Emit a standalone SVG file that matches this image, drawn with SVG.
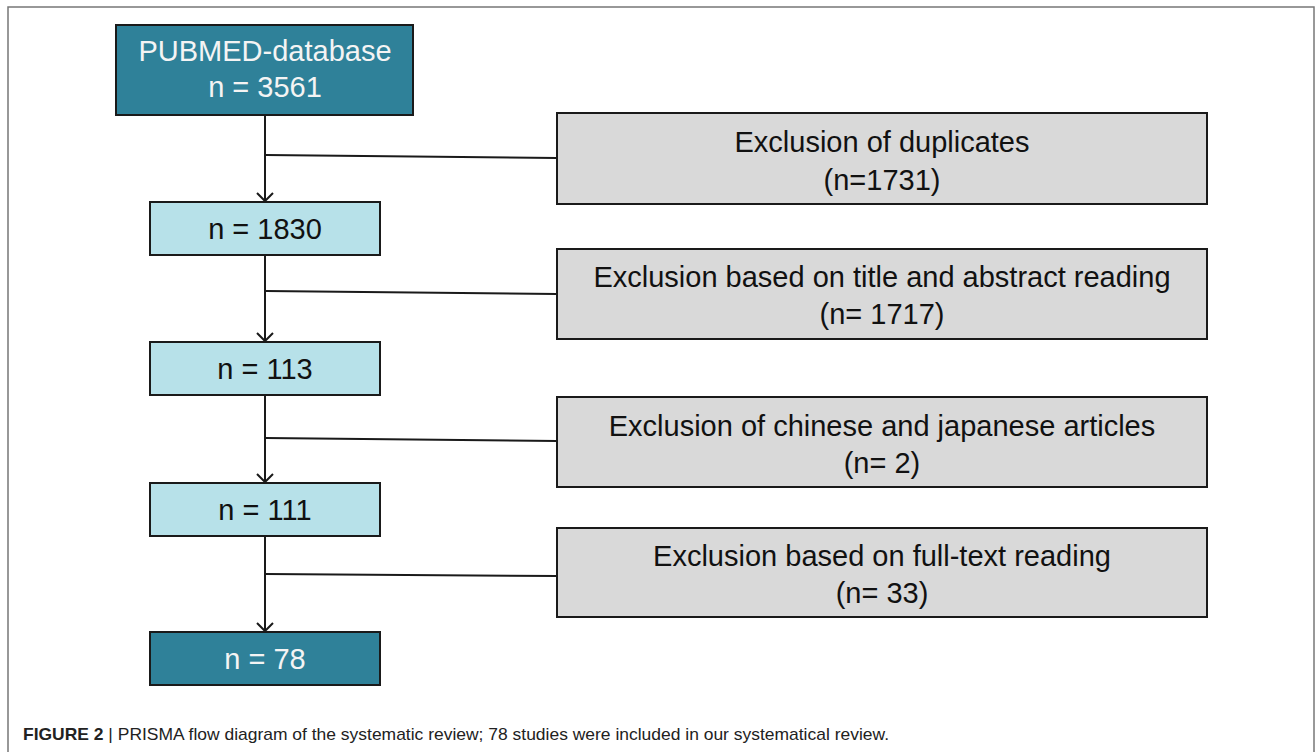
<svg xmlns="http://www.w3.org/2000/svg" width="1316" height="752" viewBox="0 0 1316 752">
<style>
.dark{fill:#2f8199;stroke:#1a1a1a;stroke-width:2}
.light{fill:#b7e1e9;stroke:#1a1a1a;stroke-width:2}
.gray{fill:#d9d9d9;stroke:#1a1a1a;stroke-width:2}
.wt{font-family:"Liberation Sans",Arial,sans-serif;font-size:29px;fill:#f4f4f4;text-anchor:middle}
.bt{font-family:"Liberation Sans",Arial,sans-serif;font-size:29px;fill:#111;text-anchor:middle}
.gt{font-family:"Liberation Sans",Arial,sans-serif;font-size:29px;fill:#111;text-anchor:middle}
.ln{stroke:#1a1a1a;stroke-width:2;fill:none}
.cap{font-family:"Liberation Sans Narrow","Liberation Sans",Arial,sans-serif;font-size:17px;fill:#222}
</style>
<defs>
<marker id="arr" markerWidth="16" markerHeight="18" refX="9" refY="9" orient="auto" markerUnits="userSpaceOnUse">
<path d="M1,1 L9,9 L1,17" fill="none" stroke="#1a1a1a" stroke-width="2"/>
</marker>
</defs>
<rect x="8" y="7" width="1306" height="760" fill="#fff" stroke="#777" stroke-width="1.5"/>
<g id="connectors">
<line class="ln" x1="265" y1="115" x2="265" y2="201" marker-end="url(#arr)"/>
<line class="ln" x1="265" y1="255" x2="265" y2="341" marker-end="url(#arr)"/>
<line class="ln" x1="265" y1="395" x2="265" y2="482" marker-end="url(#arr)"/>
<line class="ln" x1="265" y1="536" x2="265" y2="631" marker-end="url(#arr)"/>
<line class="ln" x1="266" y1="155" x2="557" y2="158"/>
<line class="ln" x1="266" y1="291" x2="557" y2="294"/>
<line class="ln" x1="266" y1="438" x2="557" y2="441"/>
<line class="ln" x1="266" y1="574" x2="557" y2="576"/>
</g>
<g id="n-pubmed">
<rect class="dark" x="116" y="25" width="297" height="90"/>
<text class="wt" x="265" y="61">PUBMED-database</text>
<text class="wt" x="265" y="97">n = 3561</text>
</g>
<g id="n-1830">
<rect class="light" x="150" y="202" width="230" height="53"/>
<text class="bt" x="265" y="239">n = 1830</text>
</g>
<g id="n-113">
<rect class="light" x="150" y="342" width="230" height="53"/>
<text class="bt" x="265" y="379">n = 113</text>
</g>
<g id="n-111">
<rect class="light" x="150" y="483" width="230" height="53"/>
<text class="bt" x="265" y="520">n = 111</text>
</g>
<g id="n-78">
<rect class="dark" x="150" y="632" width="230" height="53"/>
<text class="wt" x="265" y="669">n = 78</text>
</g>
<g id="x-dup">
<rect class="gray" x="557" y="113" width="650" height="91"/>
<text class="gt" x="882" y="152">Exclusion of duplicates</text>
<text class="gt" x="882" y="190">(n=1731)</text>
</g>
<g id="x-title">
<rect class="gray" x="557" y="249" width="650" height="90"/>
<text class="gt" x="882" y="287">Exclusion based on title and abstract reading</text>
<text class="gt" x="882" y="324">(n= 1717)</text>
</g>
<g id="x-lang">
<rect class="gray" x="557" y="397" width="650" height="90"/>
<text class="gt" x="882" y="436">Exclusion of chinese and japanese articles</text>
<text class="gt" x="882" y="473">(n= 2)</text>
</g>
<g id="x-full">
<rect class="gray" x="557" y="528" width="650" height="89"/>
<text class="gt" x="882" y="566">Exclusion based on full-text reading</text>
<text class="gt" x="882" y="603">(n= 33)</text>
</g>
<text class="cap" x="23" y="740" textLength="866" lengthAdjust="spacingAndGlyphs"><tspan font-weight="bold">FIGURE 2</tspan> | PRISMA flow diagram of the systematic review; 78 studies were included in our systematical review.</text>
</svg>
